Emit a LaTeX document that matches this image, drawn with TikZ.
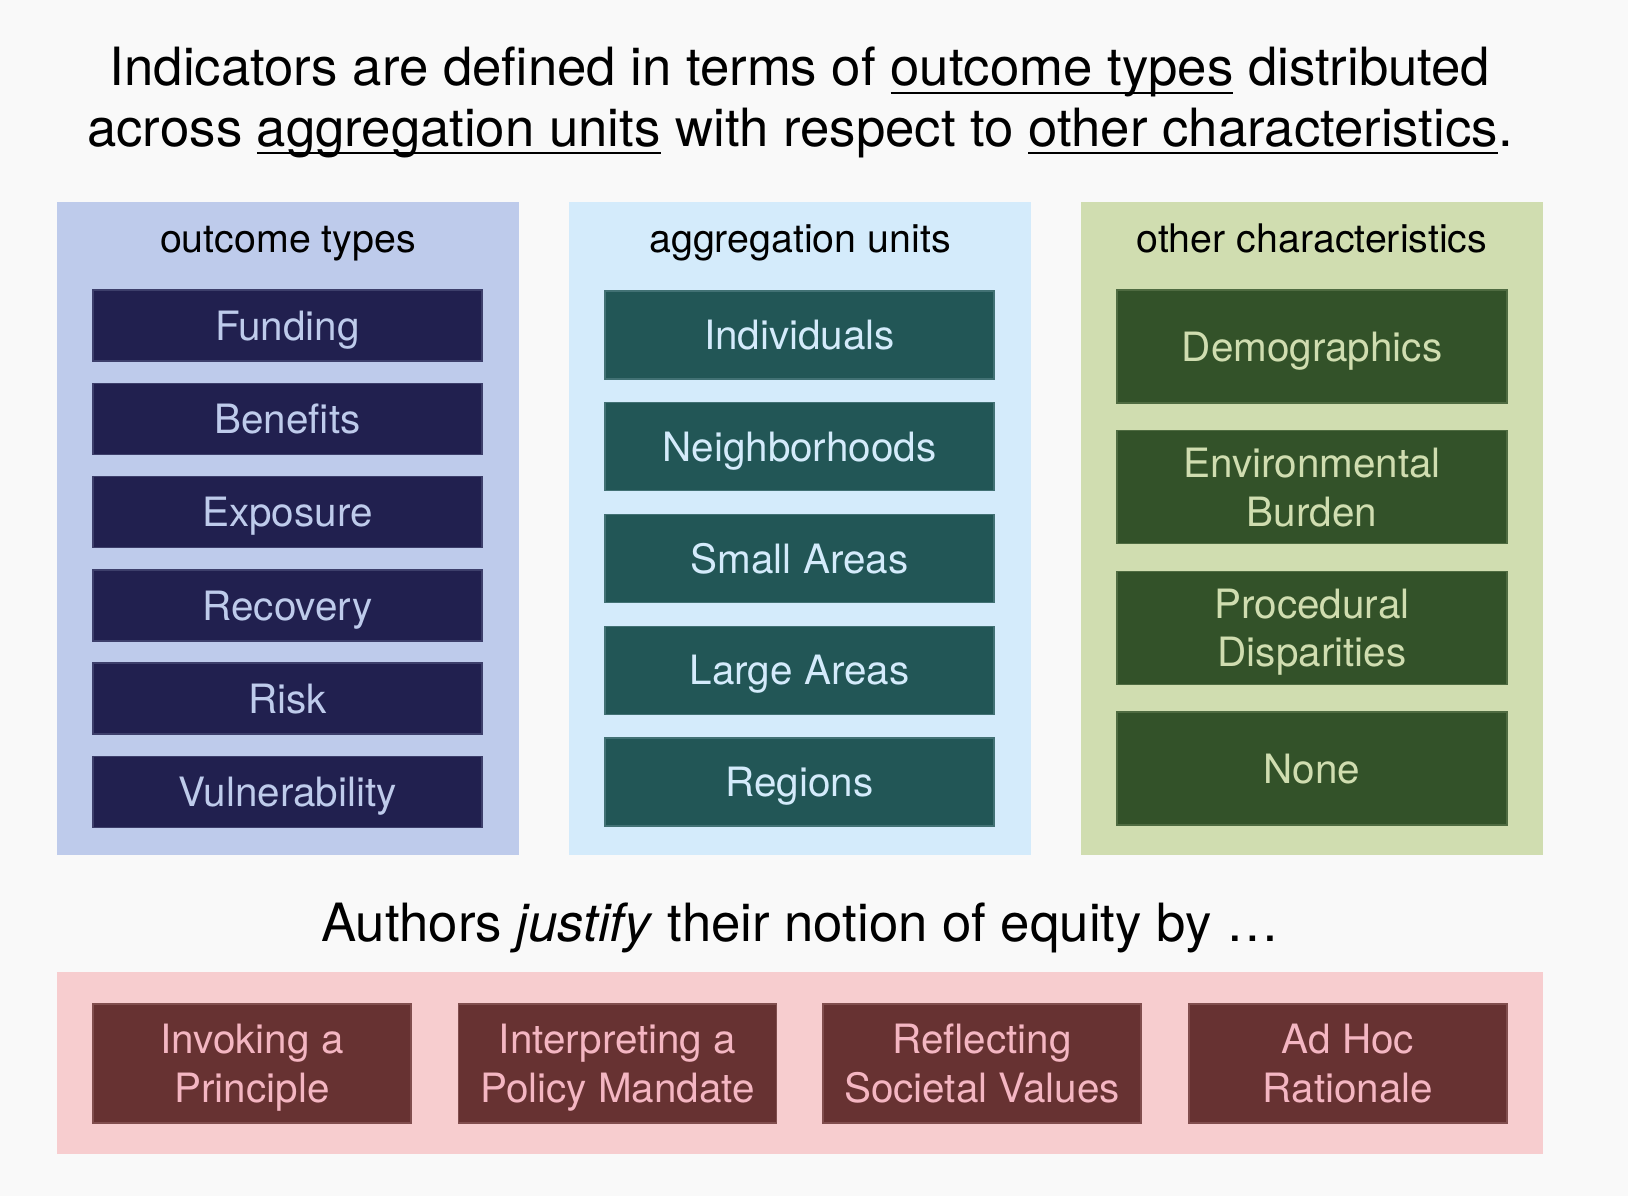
\documentclass[tikz,border=0pt]{standalone}
\usepackage{fontspec}
\setmainfont{TeX Gyre Heros}

\newsavebox{\ulbox}
\newcommand{\ulpart}[1]{\sbox{\ulbox}{#1}\rlap{\rule[-2.2pt]{\wd\ulbox}{0.6pt}}\usebox{\ulbox}}

\definecolor{bggray}{HTML}{F9F9F9}
\definecolor{outcomebg}{HTML}{BECBEB}
\definecolor{outcomefg}{HTML}{21204F}
\definecolor{unitbg}{HTML}{D4EBFB}
\definecolor{unitfg}{HTML}{225656}
\definecolor{otherbg}{HTML}{D0DDB0}
\definecolor{otherfg}{HTML}{335229}
\definecolor{justbg}{HTML}{F7CDCF}
\definecolor{justfg}{HTML}{673232}
\definecolor{justtext}{HTML}{F4B6C2}

\begin{document}
\begin{tikzpicture}[
    panel/.style={minimum width=4.62cm, minimum height=6.53cm, inner sep=0pt},
    paneltitle/.style={anchor=base, font=\fontsize{11.2}{13}\selectfont},
    headline/.style={anchor=base, font=\fontsize{15}{17.5}\selectfont},
    item/.style={inner sep=0pt, align=center, text height=8.4pt, text depth=0pt, line width=0.4pt, font=\fontsize{11.5}{13.8}\selectfont},
    twoline/.style={text height=22.2pt},
    outcomebox/.style={item, minimum width=3.89cm, minimum height=0.71cm, fill=outcomefg, draw=outcomefg!82!outcomebg, text=outcomebg},
    unitbox/.style={item, minimum width=3.89cm, minimum height=0.88cm, fill=unitfg, draw=unitfg!82!unitbg, text=unitbg},
    otherbox/.style={item, minimum width=3.90cm, minimum height=1.13cm, fill=otherfg, draw=otherfg!82!otherbg, text=otherbg},
    justbox/.style={item, twoline, minimum width=3.18cm, minimum height=1.19cm, fill=justfg, draw=justfg!82!justbg, text=justtext},
]
\fill[bggray] (0,0) rectangle (16.28,11.96);

% headline
\node[headline] (head1) at (8.0,11.10) {Indicators are defined in terms of \ulpart{outcome types} distributed};
\node[headline] (head2) at (8.0,10.493) {across \ulpart{aggregation units} with respect to \ulpart{other characteristics}.};

% outcome types
\node[panel, fill=outcomebg] (outcomes) at (2.88,6.675) {};
\node[paneltitle] (outcomestitle) at (2.88,9.43) {outcome types};
\node[outcomebox] (funding) at (2.875,8.705) {Funding};
\node[outcomebox] (benefits) at (2.875,7.772) {Benefits};
\node[outcomebox] (exposure) at (2.875,6.839) {Exposure};
\node[outcomebox] (recovery) at (2.875,5.906) {Recovery};
\node[outcomebox] (risk) at (2.875,4.973) {Risk};
\node[outcomebox] (vulnerability) at (2.875,4.04) {Vulnerability};

% aggregation units
\node[panel, fill=unitbg] (units) at (8.0,6.675) {};
\node[paneltitle] (unitstitle) at (8.0,9.43) {aggregation units};
\node[unitbox] (individuals) at (7.995,8.61) {Individuals};
\node[unitbox] (neighborhoods) at (7.995,7.4925) {Neighborhoods};
\node[unitbox] (smallareas) at (7.995,6.375) {Small Areas};
\node[unitbox] (largeareas) at (7.995,5.2575) {Large Areas};
\node[unitbox] (regions) at (7.995,4.14) {Regions};

% other characteristics
\node[panel, fill=otherbg] (others) at (13.12,6.675) {};
\node[paneltitle] (otherstitle) at (13.12,9.43) {other characteristics};
\node[otherbox] (demographics) at (13.12,8.495) {Demographics};
\node[otherbox, twoline] (burden) at (13.12,7.088) {Environmental\\Burden};
\node[otherbox, twoline] (procedural) at (13.12,5.681) {Procedural\\Disparities};
\node[otherbox] (none) at (13.12,4.274) {None};

% justifications
\node[headline] (justify) at (8.0,2.542) {Authors \textit{justify} their notion of equity by …};
\node[fill=justbg, minimum width=14.86cm, minimum height=1.82cm, inner sep=0pt] (justpanel) at (8.0,1.33) {};
\node[justbox] (principle) at (2.52,1.325) {Invoking a\\Principle};
\node[justbox] (mandate) at (6.175,1.325) {Interpreting a\\Policy Mandate};
\node[justbox] (values) at (9.82,1.325) {Reflecting\\Societal Values};
\node[justbox] (adhoc) at (13.48,1.325) {Ad Hoc\\Rationale};
\end{tikzpicture}
\end{document}
